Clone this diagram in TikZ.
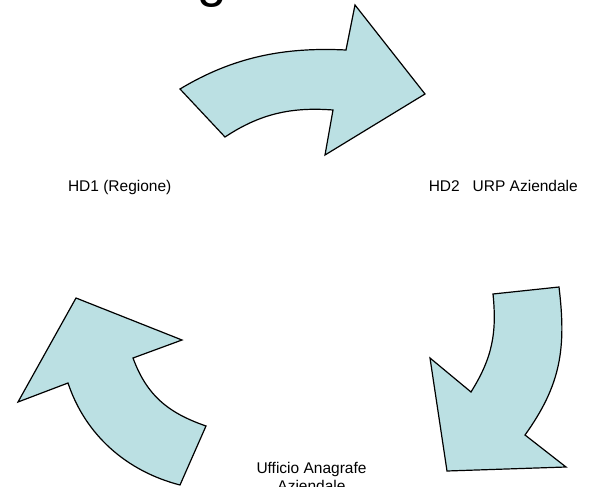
\documentclass[tikz,border=0pt]{standalone}
\usepackage{fontspec}
\setmainfont{Liberation Sans}
\definecolor{arrowfill}{RGB}{187,224,227}
\begin{document}
\begin{tikzpicture}[x=1pt,y=-1pt,
  bigarrow/.style={fill=arrowfill,draw=black,line width=1.2pt,line join=miter},
  lbl/.style={inner sep=0pt,font={\fontsize{15.5}{18.2}\selectfont}}]
\useasboundingbox (0,0) rectangle (589,487);
\clip (0,0) rectangle (589,487);
% cut-off title letter
\node[inner sep=0pt,anchor=base west,font={\fontsize{53}{60}\selectfont}] (title) at (197,-3.5) {g};
% top arrow
\draw[bigarrow] (180,89) .. controls (233,57.1) and (284,46.9) .. (346,50)
  -- (355,5) -- (425,94) -- (325,155) -- (333,110)
  .. controls (291,106.8) and (259.9,113.9) .. (225,137) -- cycle;
% right arrow
\draw[bigarrow] (493,294) -- (559,287)
  .. controls (566.4,348.4) and (561,384.8) .. (525,435)
  -- (566,467) -- (447,471) -- (430,358) -- (471,392)
  .. controls (492.2,358) and (497,333.6) .. (493,294) -- cycle;
% left arrow
\draw[bigarrow] (76,298) -- (182,340) -- (133,358)
  .. controls (146.8,395.5) and (168.2,412.9) .. (206,426)
  -- (180,485)
  .. controls (126.8,471.3) and (85.4,435.2) .. (68,383)
  -- (18,402) -- cycle;
% labels
\node[lbl,anchor=base] (hd1) at (119.7,191.7) {HD1 (Regione)};
\node[lbl,anchor=base] (hd2) at (503.3,191.7) {HD2\ \ \ URP Aziendale};
\node[lbl,anchor=north,align=center] (uff) at (311.5,462) {Ufficio Anagrafe\\Aziendale};
\end{tikzpicture}
\end{document}
